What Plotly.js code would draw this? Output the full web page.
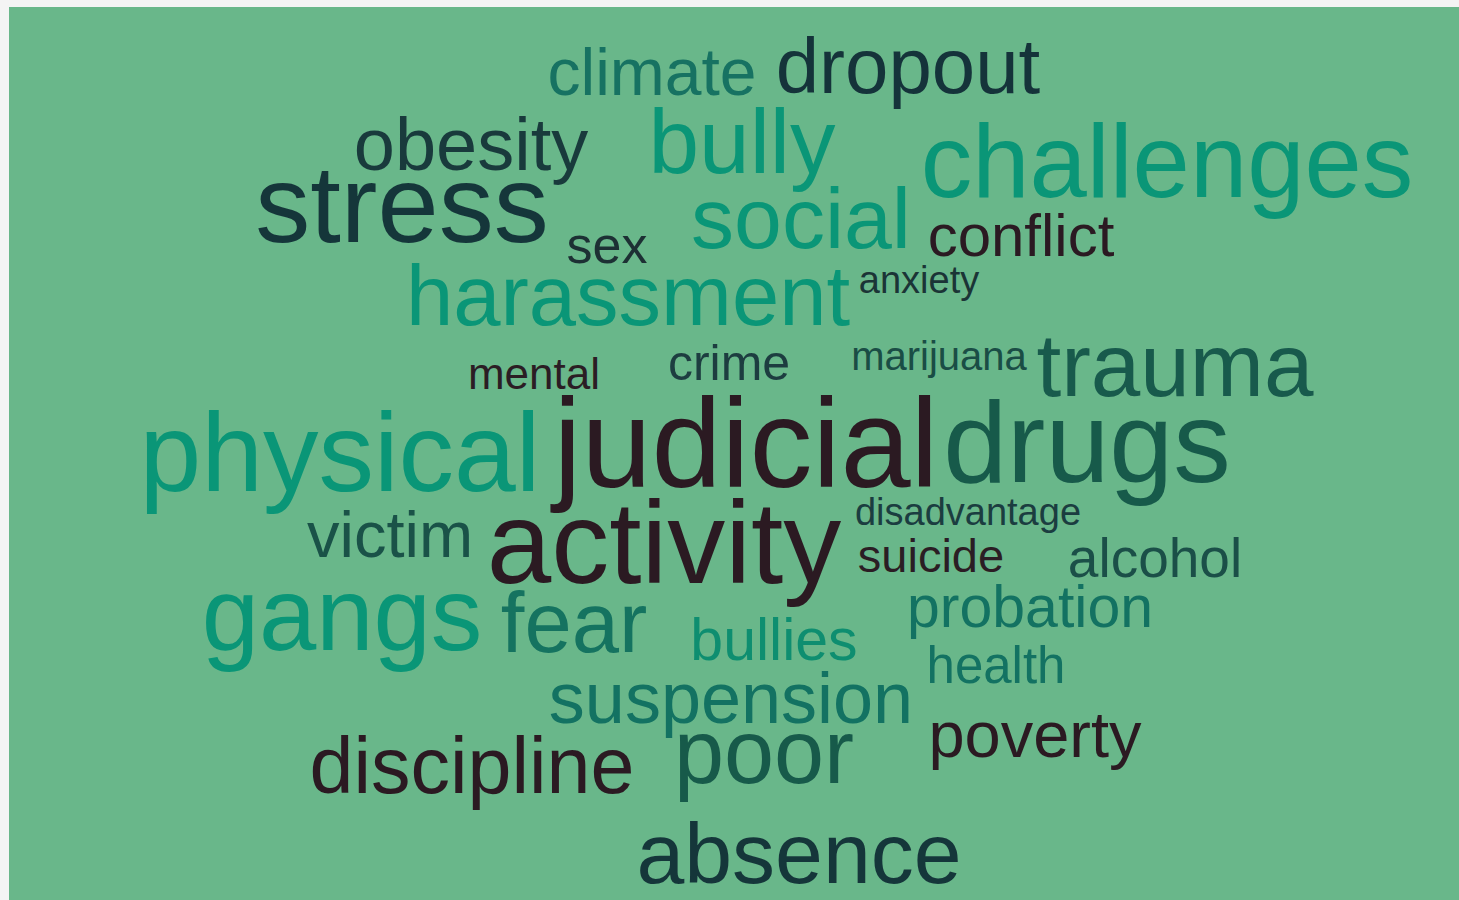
<!DOCTYPE html>
<html>
<head>
<meta charset="utf-8">
<script src="https://cdn.plot.ly/plotly-3.0.1.min.js"></script>
<style>html,body{margin:0;padding:0;background:#f4f4f4;overflow:hidden}#chart{width:1459px;height:900px}</style>
</head>
<body>
<div id="chart"></div>
<script>
// Word cloud data: each word and its weight (rendered font size in px)
var words = ["climate","dropout","obesity","bully","challenges","stress","social","sex","conflict",
  "harassment","anxiety","mental","crime","marijuana","trauma","physical","judicial","drugs",
  "victim","activity","disadvantage","suicide","alcohol","gangs","fear","bullies","probation",
  "health","suspension","poverty","discipline","poor","absence"];
var weights = [66,78,74,91,103,110,86,52,60,85,38,44,50,40,89,111,126,115,65,116,38,47,55,103,85,59,59,51,72,65,79,90,86];

// Layout of the cloud (word centre x, text baseline y, in pixels of the picture)
var centerX = [652,908,471,742,1167,402,801,607,1021,628,919,534,729,939,1175,340,746,1087,
  390,664,968,931,1155,342,574,774,1030,996,731,1035,472,764,799];
var baseY = [95,93,170,173,197,242,248,263,256,325,293,389,380,370,396,491,487,482,
  557,583,525,572,577,650,652,660,627,683,723,757,793,783,883];
var colors = ["#177262","#15333a","#193a3c","#0a9677","#0a9677","#15363a","#0a9677","#1d3034","#2b1a22",
  "#0a9677","#1b3436","#2b1d24","#1d3d40","#1a4d45","#185a4c","#0a9677","#2b1a22","#175a4a",
  "#1a5248","#2b1a22","#1b3d40","#2b1d24","#1b4f48","#0a9677","#157360","#0e8e70","#137262",
  "#137262","#137262","#2b1a22","#2b1a22","#175a4a","#15363a"];

var yText = baseY.map(function(b,i){ return b - 0.25*weights[i]; });

var trace = {
  type: "scatter",
  mode: "text",
  x: centerX,
  y: yText,
  text: words,
  textposition: "middle center",
  textfont: {family: "Arial, 'Liberation Sans', sans-serif", size: weights, color: colors},
  hoverinfo: "text",
  cliponaxis: false,
  showlegend: false
};

var layout = {
  width: 1459, height: 900,
  margin: {l: 9, r: 0, t: 7, b: 0, pad: 0},
  paper_bgcolor: "#f4f4f4",
  plot_bgcolor: "#69b78a",
  xaxis: {range: [9,1459], visible: false, fixedrange: true},
  yaxis: {range: [900,7], visible: false, fixedrange: true},
  showlegend: false
};

Plotly.newPlot("chart", [trace], layout, {displayModeBar: false, staticPlot: true});
</script>
</body>
</html>
